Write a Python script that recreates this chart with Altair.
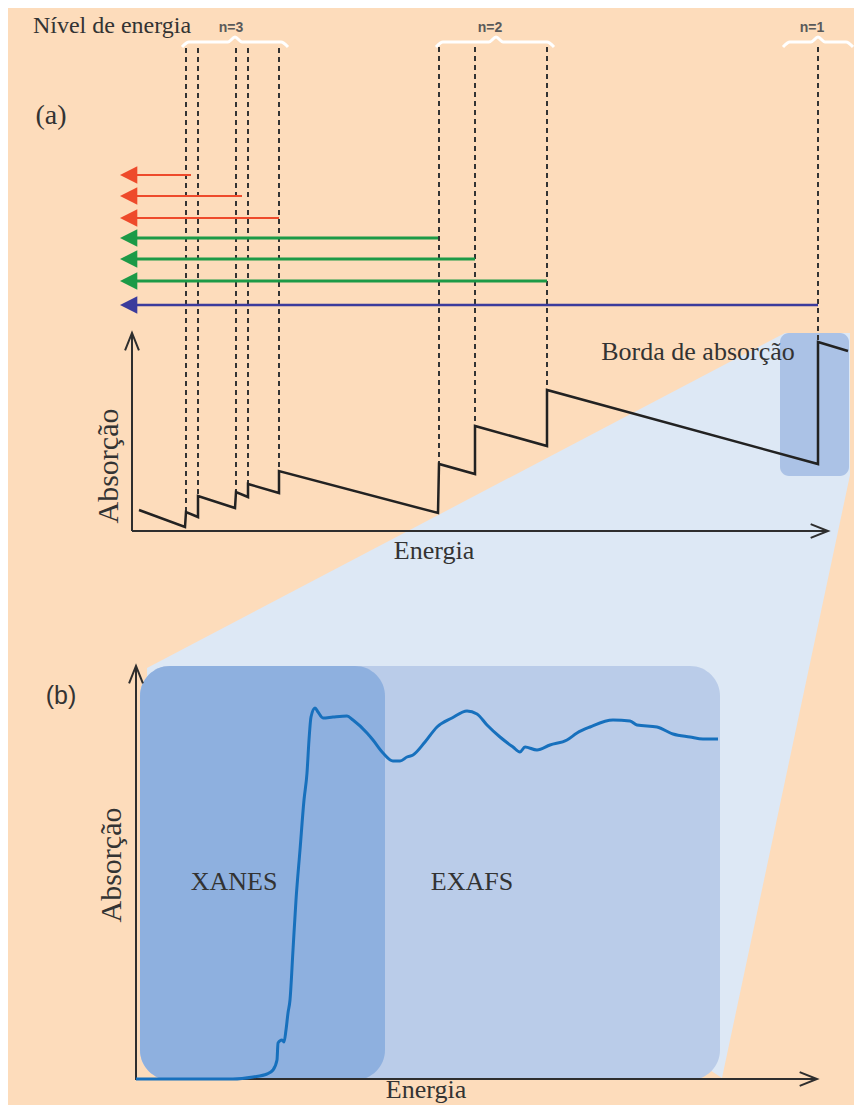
import altair as alt
import pandas as pd

# ---------------- data (diagram coordinates, image pixels) ----------------
# energy levels (dashed verticals) and their absorption-edge tops
level_x = [186, 198, 236, 248, 279, 439, 475, 547, 818]
level_bottom = [512, 496, 492, 484, 471, 464, 426, 390, 342]
level_top = [48, 48, 48, 48, 48, 47, 47, 47, 47]

# braces over groups of levels
brace_name = ["n=3", "n=2", "n=1"]
brace_left = [182, 436, 783]
brace_center = [235, 496, 818]
brace_right = [288, 554, 853]
brace_label_x = [231, 490, 812]

# emission arrows
arrow_y = [175, 196, 218, 238, 259, 281, 305]
arrow_end = [191, 242, 279, 438, 475, 547, 818]
arrow_color = ["#ee4a2b", "#ee4a2b", "#ee4a2b", "#1c9a47", "#1c9a47", "#1c9a47", "#3b3b9c"]
arrow_width = [2, 2, 2, 3, 3, 3, 2.5]
arrow_tip = 120

# sawtooth absorption (panel a)
saw_x = [139, 185, 186, 198, 198, 235, 236, 248, 248, 279, 279, 438, 439, 475, 475, 547, 547, 818, 818, 848]
saw_y = [510, 527, 512, 517, 496, 508, 492, 497, 484, 493, 471, 513, 464, 474, 426, 446, 390, 464, 342, 351]

# XAS spectrum (panel b)
xas_e = [136, 233, 253, 267, 273, 277, 278, 282, 284, 286, 288, 290, 293, 296, 300, 304, 307, 309, 311,
         315, 318, 323, 333, 347, 353, 367, 373, 383, 393, 400, 407, 413, 425, 437, 452, 467, 477, 487,
         500, 513, 520, 525, 537, 550, 567, 577, 590, 613, 630, 637, 657, 673, 690, 703, 718]
xas_a = [1079, 1079, 1077, 1074, 1070, 1060, 1043, 1040, 1042, 1030, 1013, 1000, 950, 900, 850, 800, 773,
         740, 717, 708, 712, 718, 717, 716, 720, 733, 740, 753, 761, 761, 757, 755, 742, 727, 718, 711,
         714, 725, 737, 747, 752, 747, 750, 745, 740, 733, 727, 720, 721, 725, 727, 734, 737, 739, 739]

# zoom projection hull
hull_x = [147, 722, 785, 850]
hull_top = [668, 366, 333, 333]
hull_bottom = [700, 1078, 781, 475]

# boxes
box_name = ["EXAFS", "XANES", "edge"]
box_x = [140, 140, 780]
box_x2 = [720, 385, 849]
box_y = [666, 666, 333]
box_y2 = [1080, 1080, 476]
box_color = ["#bacce9", "#8eb0df", "#abc2e6"]

# axes: (x, y) -> (x2, y2) lines, arrow tip at (x2, y2)
axis_x = [132, 132, 136, 136]
axis_y = [531, 531, 1080, 1079]
axis_x2 = [132, 828, 136, 817]
axis_y2 = [333, 531, 666, 1079]
axis_dir = ["up", "right", "up", "right"]

# text labels
serif_text = ["Nível de energia", "(a)", "Borda de absorção", "Energia", "Energia", "XANES", "EXAFS"]
serif_x = [112, 51, 698, 434, 426, 234, 472]
serif_y = [33, 124, 360, 559, 1098, 890, 890]
serif_size = [24, 28, 26, 26, 26, 26, 26]

rot_text = ["Absorção", "Absorção"]
rot_x = [118, 121]
rot_y = [466, 865]

PEACH = "#fddcbb"
HULL = "#dde8f5"
INK = "#2e2e2e"

# ---------------- scales ----------------
xs = alt.Scale(domain=[8, 854], nice=False, zero=False)
ys = alt.Scale(domain=[8, 1105], nice=False, zero=False, reverse=True)


def X(f):
    return alt.X(f, type="quantitative", scale=xs, axis=None)


def Y(f):
    return alt.Y(f, type="quantitative", scale=ys, axis=None)


layers = []

# hull
hull_df = pd.DataFrame({"x": hull_x, "top": hull_top, "bot": hull_bottom})
layers.append(alt.Chart(hull_df).mark_area(color=HULL, opacity=1, orient="vertical").encode(
    x=X("x"), y=Y("top"), y2="bot"))

# boxes
for i in range(3):
    bdf = pd.DataFrame({"x": [box_x[i]], "x2": [box_x2[i]], "y": [box_y[i]], "y2": [box_y2[i]]})
    layers.append(alt.Chart(bdf).mark_rect(color=box_color[i], cornerRadius=30 if i < 2 else 9).encode(
        x=X("x"), x2="x2", y=Y("y"), y2="y2"))

# dashed level lines
lev_df = pd.DataFrame({"x": level_x, "y": level_top, "y2": level_bottom})
layers.append(alt.Chart(lev_df).mark_rule(color="#333333", strokeWidth=2, strokeDash=[5, 4]).encode(
    x=X("x"), y=Y("y"), y2="y2"))

# braces
brow = []
for name, l, c, r in zip(brace_name, brace_left, brace_center, brace_right):
    by = 42
    pts = [(l, by + 5), (l + 7, by), (c - 7, by), (c, by - 5), (c + 7, by), (r - 7, by), (r, by + 5)]
    for k, (px, py) in enumerate(pts):
        brow.append({"b": name, "k": k, "x": px, "y": py})
layers.append(alt.Chart(pd.DataFrame(brow)).mark_line(color="white", strokeWidth=3, interpolate="monotone").encode(
    x=X("x"), y=Y("y"), detail="b:N", order="k:Q"))

# brace labels
bl_df = pd.DataFrame({"t": brace_name, "x": brace_label_x, "y": [32, 32, 32]})
layers.append(alt.Chart(bl_df).mark_text(font="Liberation Sans", fontWeight="bold", fontSize=14,
                                         color="#5a5a5a", baseline="alphabetic").encode(
    x=X("x"), y=Y("y"), text="t:N"))

# arrows
for i in range(len(arrow_y)):
    adf = pd.DataFrame({"x": [arrow_tip + 10], "x2": [arrow_end[i]], "y": [arrow_y[i]]})
    layers.append(alt.Chart(adf).mark_rule(color=arrow_color[i], strokeWidth=arrow_width[i]).encode(
        x=X("x"), x2="x2", y=Y("y")))
    hdf = pd.DataFrame({"x": [arrow_tip], "y": [arrow_y[i]]})
    layers.append(alt.Chart(hdf).mark_point(shape="M0,0L2,-1L2,1Z", filled=True, opacity=1,
                                            color=arrow_color[i], size=300).encode(
        x=X("x"), y=Y("y")))

# axes
for i in range(4):
    adf = pd.DataFrame({"x": [axis_x[i]], "x2": [axis_x2[i]], "y": [axis_y[i]], "y2": [axis_y2[i]]})
    layers.append(alt.Chart(adf).mark_rule(color=INK, strokeWidth=2).encode(
        x=X("x"), x2="x2", y=Y("y"), y2="y2"))
    shape = "M-0.4,1L0,0L0.4,1" if axis_dir[i] == "up" else "M-1,-0.4L0,0L-1,0.4"
    tdf = pd.DataFrame({"x": [axis_x2[i]], "y": [axis_y2[i]]})
    layers.append(alt.Chart(tdf).mark_point(shape=shape, filled=False, color=INK, strokeWidth=2,
                                            opacity=1, size=1200).encode(x=X("x"), y=Y("y")))

# sawtooth
saw_df = pd.DataFrame({"x": saw_x, "y": saw_y, "k": list(range(len(saw_x)))})
layers.append(alt.Chart(saw_df).mark_line(color="#222222", strokeWidth=2.5).encode(
    x=X("x"), y=Y("y"), order="k:Q"))

# XAS
xas_df = pd.DataFrame({"x": xas_e, "y": xas_a, "k": list(range(len(xas_e)))})
layers.append(alt.Chart(xas_df).mark_line(color="#1770bd", strokeWidth=3, interpolate="monotone").encode(
    x=X("x"), y=Y("y"), order="k:Q"))

# serif labels
st_df = pd.DataFrame({"t": serif_text, "x": serif_x, "y": serif_y, "s": serif_size})
layers.append(alt.Chart(st_df).mark_text(font="Liberation Serif", color="#333333", baseline="alphabetic").encode(
    x=X("x"), y=Y("y"), text="t:N", size=alt.Size("s:Q", scale=None, legend=None)))

# rotated labels
rt_df = pd.DataFrame({"t": rot_text, "x": rot_x, "y": rot_y})
layers.append(alt.Chart(rt_df).mark_text(font="Liberation Serif", color="#333333", fontSize=30,
                                         angle=270, baseline="alphabetic").encode(
    x=X("x"), y=Y("y"), text="t:N"))

# (b)
b_df = pd.DataFrame({"t": ["(b)"], "x": [61], "y": [704]})
layers.append(alt.Chart(b_df).mark_text(font="Liberation Sans", color="#333333", fontSize=25,
                                        baseline="alphabetic").encode(
    x=X("x"), y=Y("y"), text="t:N"))

chart = alt.layer(*layers).properties(
    width=846, height=1097, background=PEACH, padding=0, autosize="none"
).configure_view(stroke=None)

chart.save("out.html", embed_options={"renderer": "svg", "actions": False})
